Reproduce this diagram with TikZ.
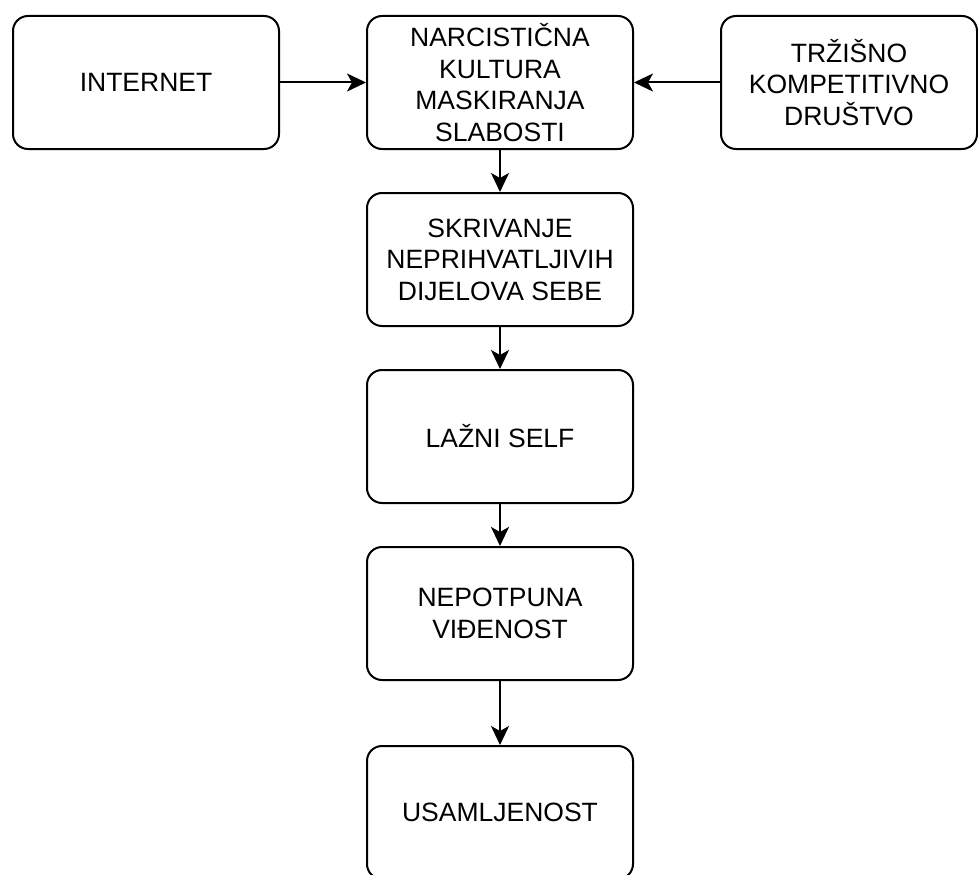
\documentclass[tikz,border=0pt]{standalone}
\usepackage{fontspec}
\setmainfont{Liberation Sans}
\usepackage{tikz}
\usetikzlibrary{positioning,arrows.meta}

\begin{document}
\begin{tikzpicture}[x=1pt,y=1pt,
  blok/.style={
   draw,
   rounded corners=15pt,
   line width=2pt,
   minimum width=266pt,
   minimum height=133pt,
   align=center,
   font=\fontsize{26.5}{31.5}\selectfont
  },
  strelica/.style={
   line width=2pt,
   -{Stealth[length=19pt,width=18pt,inset=5pt]}
  },
	node distance=42pt]
	\useasboundingbox (0,0) rectangle (978,-875);

	\node[blok] at (500,-82.5)
		  (narc) {NARCISTIČNA\\KULTURA\\MASKIRANJA\\SLABOSTI};
	\node[blok,left=86pt of narc]
		  (internet) {INTERNET};
	\node[blok,right=86pt of narc,minimum width=256pt]
		  (trziste) {TRŽIŠNO\\KOMPETITIVNO\\DRUŠTVO};
	\node[blok,below=of narc]
		  (skriv) {SKRIVANJE\\NEPRIHVATLJIVIH\\DIJELOVA SEBE};
	\node[blok,below=of skriv]
		  (self) {LAŽNI SELF};
	\node[blok,below=of self]
		  (vidj) {NEPOTPUNA\\VIĐENOST};
	\node[blok,below=64pt of vidj]
		  (usaml) {USAMLJENOST};

	\draw[strelica] (internet) -- (narc);
	\draw[strelica] (trziste) -- (narc);
	\draw[strelica] (narc) -- (skriv);
	\draw[strelica] (skriv) -- (self);
	\draw[strelica] (self) -- (vidj);
	\draw[strelica] (vidj) -- (usaml);
\end{tikzpicture}
\end{document}
